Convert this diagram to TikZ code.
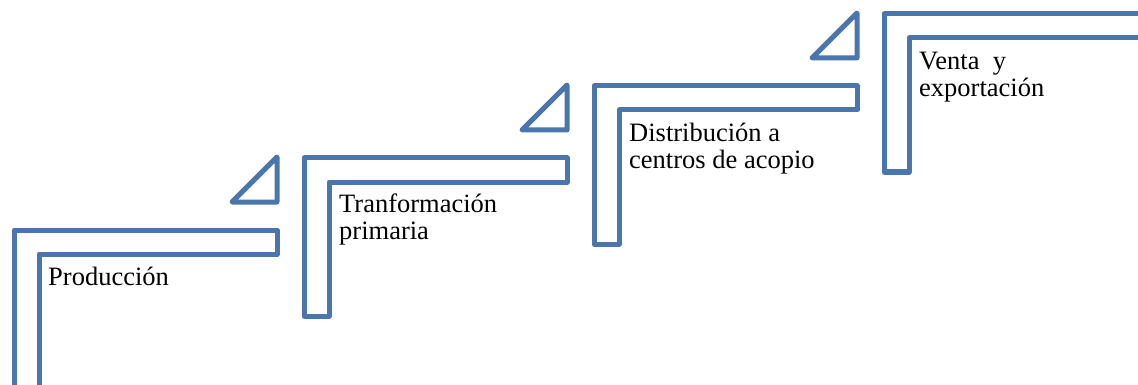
\documentclass[tikz,border=0pt]{standalone}
\usepackage{fontspec}
\setmainfont{Liberation Serif}
\definecolor{stepblue}{HTML}{4A76AD}
\begin{document}
\begin{tikzpicture}[x=1pt,y=-1pt,
  stepline/.style={draw=stepblue,line width=5pt,line join=round,fill=white},
  steplabel/.style={anchor=base west,inner sep=0pt,align=left,font=\fontsize{26.5}{26.8}\selectfont}]
\useasboundingbox (0,0) rectangle (1138,385);
\clip (0,0) rectangle (1138,385);
\foreach \i in {0,...,3}{
  \pgfmathsetmacro\ox{14+290*\i}
  \pgfmathsetmacro\oy{230-72*\i}
  \draw[stepline] (\ox,\oy+158) -- (\ox,\oy) -- (\ox+263,\oy) -- (\ox+263,\oy+24)
     -- (\ox+25,\oy+24) -- (\ox+25,\oy+158) -- cycle;
  \draw[stepline] (\ox+218,\oy-28) -- (\ox+263,\oy-73) -- (\ox+263,\oy-28) -- cycle;
}
\node[steplabel] (t1) at (48,285.5) {Producción};
\node[steplabel] (t2) at (339,239.3) {Tranformación\\primaria};
\node[steplabel] (t3) at (629,168.6) {Distribución a\\centros de acopio};
\node[steplabel] (t4) at (919,96.8) {Venta~ y\\exportación};
\end{tikzpicture}
\end{document}
